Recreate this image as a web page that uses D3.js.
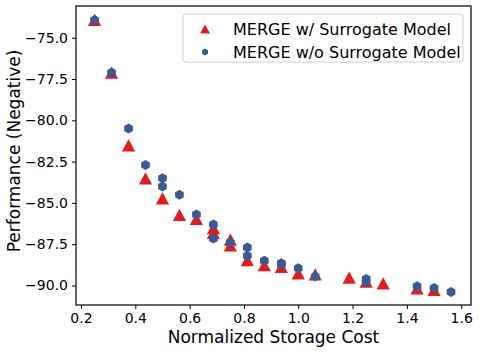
<!DOCTYPE html>
<html>
<head>
<meta charset="utf-8">
<script src="https://cdn.jsdelivr.net/npm/d3@7"></script>
<style>
    body { margin: 0; background: #fff; }
    text { font-family: "DejaVu Sans", sans-serif; fill: #000; }
</style>
</head>
<body>
<div id="chart"></div>
<script>
    "use strict";

    // storage cost, performance (with surrogate model)
    const withCost = [0.25, 0.3125, 0.375, 0.4375, 0.5, 0.5625, 0.625, 0.6875, 0.6875, 0.75, 0.75,
        0.8125, 0.875, 0.9375, 1.0, 1.0625, 1.1875, 1.25, 1.3125, 1.4375, 1.5];
    const withPerf = [-74.0, -77.2, -81.6, -83.6, -84.8, -85.8, -86.05, -86.6, -86.9, -87.3, -87.65,
        -88.55, -88.85, -88.95, -89.35, -89.4, -89.6, -89.85, -89.95, -90.25, -90.35];

    // storage cost, performance (without surrogate model)
    const withoutCost = [0.25, 0.3125, 0.375, 0.4375, 0.5, 0.5, 0.5625, 0.625, 0.6875, 0.6875, 0.75,
        0.8125, 0.8125, 0.875, 0.9375, 0.9375, 1.0, 1.0625, 1.25, 1.25, 1.4375, 1.5, 1.5625];
    const withoutPerf = [-73.93, -77.1, -80.5, -82.7, -83.5, -84.0, -84.5, -85.7, -86.3, -87.15, -87.4,
        -87.7, -88.2, -88.5, -88.65, -88.75, -88.95, -89.45, -89.6, -89.8, -90.05, -90.15, -90.4];

    const seriesNames = ["MERGE w/ Surrogate Model", "MERGE w/o Surrogate Model"];
    const xTicks = [0.2, 0.4, 0.6, 0.8, 1.0, 1.2, 1.4, 1.6];
    const yTicks = [-75.0, -77.5, -80.0, -82.5, -85.0, -87.5, -90.0];

    const RED = "#e41a1c";
    const BLUE = "#3b5a93";

    const width = 479, height = 352;
    const margin = { left: 76, right: 8, top: 6, bottom: 47 };

    const svg = d3.select("#chart").append("svg")
        .attr("width", width).attr("height", height);

    let x = d3.scaleLinear()
        .domain([0.1816, 1.636])
        .range([margin.left, width - margin.right]);

    let y = d3.scaleLinear()
        .domain([-91.18, -73.08])
        .range([height - margin.bottom, margin.top]);

    let hexPath = (r) => {
        let pts = d3.range(6).map(i => {
            let a = Math.PI / 2 + i * Math.PI / 3;
            return [r * Math.cos(a), r * Math.sin(a)];
        });
        return "M" + pts.map(p => p.join(",")).join("L") + "Z";
    };
    let triPath = (s) => `M0,${-s * 0.62}L${s * 0.55},${s * 0.4}L${-s * 0.55},${s * 0.4}Z`;

    // axes
    let xAxis = svg.append("g")
        .attr("transform", `translate(0,${height - margin.bottom})`)
        .call(d3.axisBottom(x).tickValues(xTicks).tickFormat(d3.format(".1f"))
            .tickSize(4).tickPadding(4));
    let yAxis = svg.append("g")
        .attr("transform", `translate(${margin.left},0)`)
        .call(d3.axisLeft(y).tickValues(yTicks).tickFormat(d => d3.format(".1f")(d).replace("-", "\u2212"))
            .tickSize(4).tickPadding(4));
    [xAxis, yAxis].forEach(a => {
        a.select(".domain").remove();
        a.selectAll("text").style("font-size", "14px").style("font-family", "DejaVu Sans");
        a.selectAll("line").attr("stroke", "#000").attr("stroke-width", 1);
    });

    // frame
    svg.append("rect")
        .attr("x", margin.left).attr("y", margin.top)
        .attr("width", width - margin.left - margin.right)
        .attr("height", height - margin.top - margin.bottom)
        .attr("fill", "none").attr("stroke", "#000").attr("stroke-width", 1.2);

    // points
    svg.append("g").selectAll("path")
        .data(d3.zip(withCost, withPerf))
        .enter().append("path")
        .attr("d", triPath(12))
        .attr("transform", d => `translate(${x(d[0])},${y(d[1])})`)
        .attr("fill", RED);

    svg.append("g").selectAll("path")
        .data(d3.zip(withoutCost, withoutPerf))
        .enter().append("path")
        .attr("d", hexPath(5))
        .attr("transform", d => `translate(${x(d[0])},${y(d[1])})`)
        .attr("fill", BLUE);

    // axis labels
    svg.append("text")
        .attr("x", (margin.left + width - margin.right) / 2)
        .attr("y", height - 9)
        .attr("text-anchor", "middle")
        .style("font-size", "17px")
        .text("Normalized Storage Cost");

    svg.append("text")
        .attr("transform", "translate(20,151) rotate(-90)")
        .attr("text-anchor", "middle")
        .style("font-size", "17px")
        .text("Performance (Negative)");

    // legend
    let legend = svg.append("g");
    legend.append("rect")
        .attr("x", 183).attr("y", 14).attr("width", 280).attr("height", 48)
        .attr("rx", 3).attr("fill", "#fff").attr("fill-opacity", 0.8)
        .attr("stroke", "#d0d0d0");
    legend.append("path").attr("d", triPath(9)).attr("transform", "translate(205,30)").attr("fill", RED);
    legend.append("path").attr("d", hexPath(3.5)).attr("transform", "translate(205,52)").attr("fill", BLUE);
    seriesNames.forEach((n, i) => {
        legend.append("text")
            .attr("x", 233).attr("y", 29 + i * 23)
            .attr("dy", "0.35em")
            .style("font-size", "16px")
            .text(n);
    });
</script>
</body>
</html>
